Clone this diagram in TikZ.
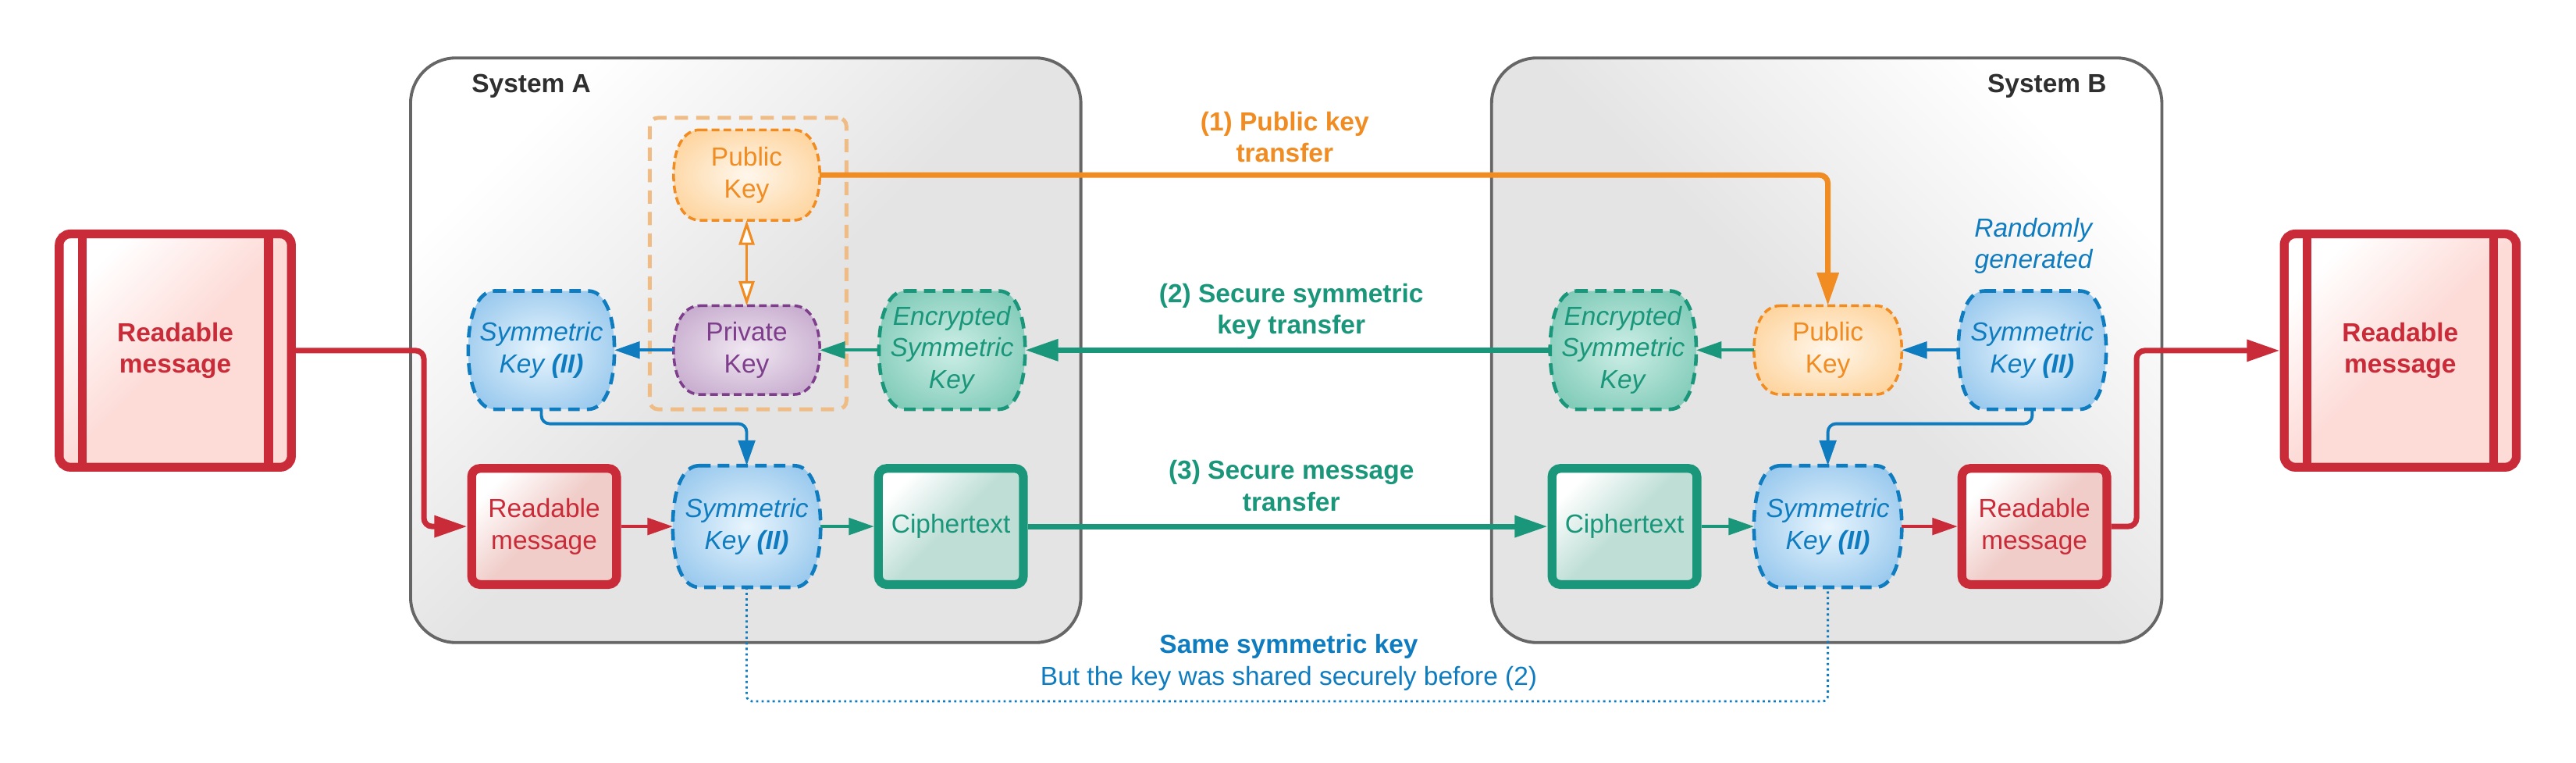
\documentclass[tikz,border=0pt]{standalone}
\usepackage{fontspec}
\setmainfont{Liberation Sans}
\usetikzlibrary{arrows.meta,calc}

\definecolor{cRed}{HTML}{C92B39}
\definecolor{cPinkBig}{HTML}{FDDCD8}
\definecolor{cPinkSmall}{HTML}{F0CDC9}
\definecolor{cOrange}{HTML}{F08C22}
\definecolor{cOrLight}{HTML}{EEBC84}
\definecolor{cBlue}{HTML}{0E7CBF}
\definecolor{cGreen}{HTML}{1A967A}
\definecolor{cCipher}{HTML}{BEDED6}
\definecolor{cPurple}{HTML}{7E3E8C}
\definecolor{cSys}{HTML}{E4E4E4}
\definecolor{cSysBorder}{HTML}{666666}
\definecolor{cDark}{HTML}{2F2F2F}

\definecolor{blueIn}{HTML}{E8F5FD}
\definecolor{blueOut}{HTML}{74B4E6}
\definecolor{orIn}{HTML}{FFF7EC}
\definecolor{orOut}{HTML}{FDC47A}
\definecolor{puIn}{HTML}{F1E8F2}
\definecolor{puOut}{HTML}{B491BE}
\definecolor{grIn}{HTML}{CDEEE6}
\definecolor{grOut}{HTML}{5DBBA3}

\pgfdeclareradialshading{shBlue}{\pgfpoint{0bp}{0bp}}{color(0bp)=(blueIn); color(44bp)=(blueOut); color(50bp)=(blueOut)}
\pgfdeclareradialshading{shOrange}{\pgfpoint{0bp}{0bp}}{color(0bp)=(orIn); color(44bp)=(orOut); color(50bp)=(orOut)}
\pgfdeclareradialshading{shPurple}{\pgfpoint{0bp}{0bp}}{color(0bp)=(puIn); color(44bp)=(puOut); color(50bp)=(puOut)}
\pgfdeclareradialshading{shGreen}{\pgfpoint{0bp}{0bp}}{color(0bp)=(grIn); color(44bp)=(grOut); color(50bp)=(grOut)}

\def\uu{0.021cm}
\newcommand\dfont{\fontsize{9.5}{11.5}\selectfont}

% name, x, y, half-width, half-height, shape style, text style, text
\newcommand\keyshape[8]{%
  \begin{scope}[shift={(#2,#3)}]
    \path[#6] ({-#4+16},{-#5}) -- ({#4-16},{-#5})
      .. controls ({#4-6},{-#5}) and ({#4},{-0.6*#5}) .. ({#4},0)
      .. controls ({#4},{0.6*#5}) and ({#4-6},{#5}) .. ({#4-16},{#5})
      -- ({-#4+16},{#5})
      .. controls ({-#4+6},{#5}) and ({-#4},{0.6*#5}) .. ({-#4},0)
      .. controls ({-#4},{-0.6*#5}) and ({-#4+6},{-#5}) .. cycle;
  \end{scope}
  \node[keynode, minimum width=2*#4*\uu, minimum height=2*#5*\uu, #7] (#1) at (#2,#3) {#8};
}

\begin{document}
\begin{tikzpicture}[x=0.021cm, y=-0.021cm,
  every node/.append style={font=\dfont},
  keynode/.style={rectangle, inner sep=0pt, outer sep=0pt, align=center, font=\dfont},
  kBlue/.style={draw=cBlue, line width=1.3pt, dash pattern=on 4.2pt off 2.6pt, shade, shading=shBlue},
  kGreen/.style={draw=cGreen, line width=1.3pt, dash pattern=on 4.2pt off 2.6pt, shade, shading=shGreen},
  kOrange/.style={draw=cOrange, line width=1pt, dash pattern=on 2.8pt off 1.5pt, shade, shading=shOrange},
  kPurple/.style={draw=cPurple, line width=1pt, dash pattern=on 2.8pt off 1.5pt, shade, shading=shPurple},
  sysbox/.style={draw=cSysBorder, line width=1.1pt, rounded corners=16.5pt,
    minimum width=408*\uu, minimum height=355.7*\uu, inner sep=0pt,
    top color=white, bottom color=cSys, middle color=cSys},
  bigmsg/.style={draw=cRed, line width=3.2pt, rounded corners=4pt,
    minimum width=141.3*\uu, minimum height=141.9*\uu, inner sep=0pt, align=center,
    text=cRed, font=\dfont\bfseries,
    top color=white, bottom color=cPinkBig, middle color=cPinkBig, shading angle=45},
  smallbox/.style={line width=3.2pt, rounded corners=3pt,
    minimum width=88.2*\uu, minimum height=70.6*\uu, inner sep=0pt, align=center,
    shading angle=45},
  arrBig/.style={-{Triangle[length=12pt,width=7.6pt]}, line width=2pt},
  arrSmall/.style={-{Triangle[length=9.2pt,width=6.1pt]}, line width=1.1pt},
  lbl/.style={align=center, font=\dfont\bfseries},
]
\useasboundingbox (0,0) rectangle (1568,464.2);

% systems
\node[sysbox, shading angle=45] (sysA) at (453.9,213.1) {};
\node[sysbox, shading angle=-45] (sysB) at (1111.9,213.1) {};
\node[anchor=base, text=cDark, font=\dfont\bfseries] (tA) at (323.4,56.2) {System A};
\node[anchor=base, text=cDark, font=\dfont\bfseries] (tB) at (1246,56.2) {System B};

% key pair group
\node[draw=cOrLight, line width=1.4pt, dash pattern=on 4.8pt off 3pt, rounded corners=3pt,
  minimum width=119.7*\uu, minimum height=177.3*\uu, inner sep=0pt] (grp) at (455.35,160.35) {};

% outer messages
\node[bigmsg] (rmL) at (106.7,213.3) {Readable\\message};
\node[bigmsg] (rmR) at (1461,213.3) {Readable\\message};
\foreach \b in {rmL,rmR}{
  \draw[cRed, line width=3.2pt] ($(\b.north west)+(16.6,0)$) -- ($(\b.south west)+(16.6,0)$);
  \draw[cRed, line width=3.2pt] ($(\b.north east)+(-16.6,0)$) -- ($(\b.south east)+(-16.6,0)$);
}

% keys
\keyshape{pubA}{454.5}{106.5}{44.5}{27.5}{kOrange}{text=cOrange}{Public\\Key}
\keyshape{privA}{454.5}{213}{44.5}{27}{kPurple}{text=cPurple}{Private\\Key}
\keyshape{skA1}{329.5}{213}{44.5}{36}{kBlue}{text=cBlue}{\textit{Symmetric}\\\textit{Key \textbf{(II)}}}
\keyshape{encA}{579.5}{213}{44.5}{36}{kGreen}{text=cGreen}{\textit{Encrypted}\\\textit{Symmetric}\\\textit{Key}}
\keyshape{skA2}{454.5}{320.3}{45}{37}{kBlue}{text=cBlue}{\textit{Symmetric}\\\textit{Key \textbf{(II)}}}
\keyshape{encB}{988}{213}{44.5}{36}{kGreen}{text=cGreen}{\textit{Encrypted}\\\textit{Symmetric}\\\textit{Key}}
\keyshape{pubB}{1112.6}{213}{45}{27}{kOrange}{text=cOrange}{Public\\Key}
\keyshape{skB1}{1237}{213}{45}{36}{kBlue}{text=cBlue}{\textit{Symmetric}\\\textit{Key \textbf{(II)}}}
\keyshape{skB2}{1112.6}{320.3}{45}{37}{kBlue}{text=cBlue}{\textit{Symmetric}\\\textit{Key \textbf{(II)}}}

% lower boxes
\node[smallbox, draw=cRed, text=cRed, top color=white, bottom color=cPinkSmall, middle color=cPinkSmall, shading angle=45] (rA) at (331.2,320.3) {Readable\\message};
\node[smallbox, draw=cGreen, text=cGreen, top color=white, bottom color=cCipher, middle color=cCipher, shading angle=45] (cA) at (578.8,320.3) {Ciphertext};
\node[smallbox, draw=cGreen, text=cGreen, top color=white, bottom color=cCipher, middle color=cCipher, shading angle=45] (cB) at (988.8,320.3) {Ciphertext};
\node[smallbox, draw=cRed, text=cRed, top color=white, bottom color=cPinkSmall, middle color=cPinkSmall, shading angle=45] (rB) at (1238.3,320.3) {Readable\\message};

% labels
\node[lbl, text=cOrange] (l1) at (782,83.5) {(1) Public key\\transfer};
\node[lbl, text=cGreen] (l2) at (786,189.5) {(2) Secure symmetric\\key transfer};
\node[lbl, text=cGreen] (l3) at (786,295.5) {(3) Secure message\\transfer};
\node[align=center, text=cBlue] (rg) at (1238,149.5) {\textit{Randomly}\\\textit{generated}};
\node[align=center, text=cBlue] (same) at (784.5,403) {\textbf{Same symmetric key}\\But the key was shared securely before (2)};

% connectors
\draw[arrBig, cRed, rounded corners=3pt] (rmL.east) -| ($(rA.west)+(-26.4,0)$) -- (rA.west);
\draw[arrBig, cRed, rounded corners=3pt] (rB.east) -- ++(15.4,0) |- (rmR.west);
\draw[arrSmall, cRed] (rA.east) -- (skA2.west);
\draw[arrSmall, cGreen] (skA2.east) -- (cA.west);
\draw[arrSmall, cBlue] (privA.west) -- (skA1.east);
\draw[arrSmall, cGreen] (encA.west) -- (privA.east);
\draw[cOrange, line width=0.9pt, {Triangle[length=9pt,width=5.7pt,fill=white]}-{Triangle[length=9pt,width=5.7pt,fill=white]}] (pubA.south) -- (privA.north);
\draw[arrSmall, cBlue, rounded corners=3pt] (skA1.south) -- ++(0,8.8) -| (skA2.north);
\draw[arrSmall, cGreen] (cB.east) -- (skB2.west);
\draw[arrSmall, cRed] (skB2.east) -- (rB.west);
\draw[arrSmall, cBlue] (skB1.west) -- (pubB.east);
\draw[arrSmall, cGreen] (pubB.west) -- (encB.east);
\draw[arrSmall, cBlue, rounded corners=3pt] (skB1.south) -- ++(0,8.8) -| (skB2.north);
\draw[arrBig, cOrange, rounded corners=3pt] (pubA.east) -| (pubB.north);
\draw[arrBig, cGreen] (encB.west) -- (encA.east);
\draw[arrBig, cGreen] (cA.east) -- (cB.west);
\draw[cBlue, line width=0.8pt, dash pattern=on 0.8pt off 1.2pt, rounded corners=2pt] (skA2.south) -- ++(0,69.4) -| (skB2.south);
\end{tikzpicture}
\end{document}
